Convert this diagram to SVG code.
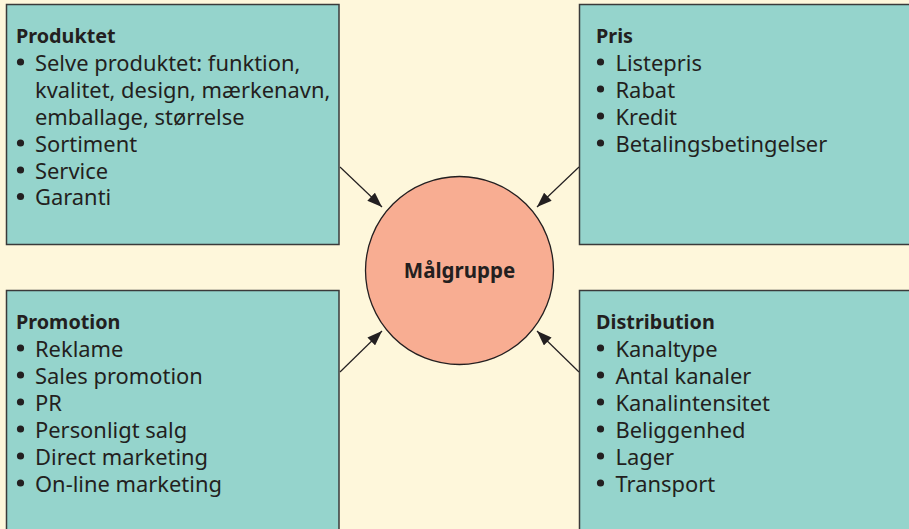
<svg xmlns="http://www.w3.org/2000/svg" width="909" height="529" viewBox="0 0 909 529">
<defs>
<style>
.box{fill:#95d4cc;stroke:#3a3a3a;stroke-width:1.5}
.t{font-family:"Noto Sans","Open Sans",sans-serif;font-size:21.9px;fill:#231f20}
.h{font-family:"Noto Sans","Open Sans",sans-serif;font-size:19.8px;font-weight:bold;fill:#231f20}
.dot{fill:#231f20}
.con{stroke:#231f20;stroke-width:1.2;fill:none;marker-end:url(#ah)}
</style>
<marker id="ah" viewBox="0 0 15 11" refX="15" refY="5.5" markerWidth="15" markerHeight="11" markerUnits="userSpaceOnUse" orient="auto">
<path d="M0,0 L15,5.5 L0,11 Z" fill="#231f20"/>
</marker>
</defs>
<rect width="909" height="529" fill="#fef7db"/>
<g id="connectors">
<line class="con" x1="340" y1="167" x2="382" y2="207"/>
<line class="con" x1="579" y1="167" x2="537" y2="207"/>
<line class="con" x1="340" y1="372" x2="382" y2="331"/>
<line class="con" x1="579" y1="372" x2="537" y2="331"/>
</g>
<g id="produktet">
<rect class="box" x="6.5" y="4.5" width="332.5" height="240"/>
<text class="h" x="16" y="43">Produktet</text>
<circle class="dot" cx="20.5" cy="62" r="3.6"/>
<circle class="dot" cx="20.5" cy="143" r="3.6"/>
<circle class="dot" cx="20.5" cy="170" r="3.6"/>
<circle class="dot" cx="20.5" cy="196.5" r="3.6"/>
<text class="t" x="35" y="70.5">Selve produktet: funktion,</text>
<text class="t" x="35" y="97.5">kvalitet, design, mærkenavn,</text>
<text class="t" x="35" y="124.5">emballage, størrelse</text>
<text class="t" x="35" y="151.5">Sortiment</text>
<text class="t" x="35" y="178.5">Service</text>
<text class="t" x="35" y="205">Garanti</text>
</g>
<g id="pris">
<rect class="box" x="579.5" y="4.5" width="335" height="240"/>
<text class="h" x="596" y="43">Pris</text>
<circle class="dot" cx="600.5" cy="62" r="3.6"/>
<circle class="dot" cx="600.5" cy="89" r="3.6"/>
<circle class="dot" cx="600.5" cy="116" r="3.6"/>
<circle class="dot" cx="600.5" cy="143" r="3.6"/>
<text class="t" x="615.5" y="70.5">Listepris</text>
<text class="t" x="615.5" y="97.5">Rabat</text>
<text class="t" x="615.5" y="124.5">Kredit</text>
<text class="t" x="615.5" y="151.5">Betalingsbetingelser</text>
</g>
<g id="promotion">
<rect class="box" x="6.5" y="290.5" width="332.5" height="245"/>
<text class="h" x="16" y="329">Promotion</text>
<circle class="dot" cx="20.5" cy="348" r="3.6"/>
<circle class="dot" cx="20.5" cy="375" r="3.6"/>
<circle class="dot" cx="20.5" cy="402" r="3.6"/>
<circle class="dot" cx="20.5" cy="429" r="3.6"/>
<circle class="dot" cx="20.5" cy="456" r="3.6"/>
<circle class="dot" cx="20.5" cy="483" r="3.6"/>
<text class="t" x="35" y="356.5">Reklame</text>
<text class="t" x="35" y="383.5">Sales promotion</text>
<text class="t" x="35" y="410.5">PR</text>
<text class="t" x="35" y="437.5">Personligt salg</text>
<text class="t" x="35" y="464.5">Direct marketing</text>
<text class="t" x="35" y="491.5">On-line marketing</text>
</g>
<g id="distribution">
<rect class="box" x="579.5" y="290.5" width="335" height="245"/>
<text class="h" x="596" y="329">Distribution</text>
<circle class="dot" cx="600.5" cy="348" r="3.6"/>
<circle class="dot" cx="600.5" cy="375" r="3.6"/>
<circle class="dot" cx="600.5" cy="402" r="3.6"/>
<circle class="dot" cx="600.5" cy="429" r="3.6"/>
<circle class="dot" cx="600.5" cy="456" r="3.6"/>
<circle class="dot" cx="600.5" cy="483" r="3.6"/>
<text class="t" x="615.5" y="356.5">Kanaltype</text>
<text class="t" x="615.5" y="383.5">Antal kanaler</text>
<text class="t" x="615.5" y="410.5">Kanalintensitet</text>
<text class="t" x="615.5" y="437.5">Beliggenhed</text>
<text class="t" x="615.5" y="464.5">Lager</text>
<text class="t" x="615.5" y="491.5">Transport</text>
</g>
<g id="maalgruppe">
<circle cx="459.5" cy="270.5" r="94" fill="#f8ad92" stroke="#231f20" stroke-width="1.3"/>
<text x="459.5" y="278" text-anchor="middle" font-family="Noto Sans, Open Sans, sans-serif" font-size="20.5" font-weight="bold" fill="#231f20">Målgruppe</text>
</g>
</svg>
